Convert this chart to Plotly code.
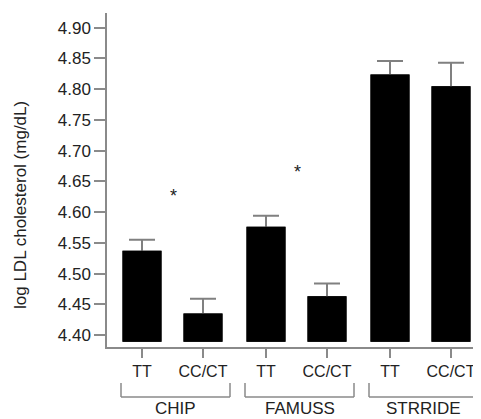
import plotly.graph_objects as go

# ---- data ----
groups = ["CHIP", "FAMUSS", "STRRIDE"]
genotypes = ["TT", "CC/CT"]
chip_mean = [4.537, 4.435]
chip_err = [0.018, 0.024]
famuss_mean = [4.576, 4.463]
famuss_err = [0.018, 0.021]
strride_mean = [4.824, 4.805]
strride_err = [0.022, 0.038]
significant = [True, True, False]
y_ticks = [4.40, 4.45, 4.50, 4.55, 4.60, 4.65, 4.70, 4.75, 4.80, 4.85, 4.90]
y_title = "log LDL cholesterol (mg/dL)"

means = [chip_mean, famuss_mean, strride_mean]
errs = [chip_err, famuss_err, strride_err]

# ---- layout helpers ----
OFF = 8                      # page body margin offset
W, H = 481 - OFF, 419 - OFF
ML, MR, MT, MB = 107 - OFF, 0, 13 - OFF, 419 - 347
first_center = 35
group_step = 124
within_step = 61
bar_width = 39
base = 4.389

FONT = "Liberation Sans, Arial, sans-serif"
TXT = "#222222"
AXC = "#8a8a8a"

xs, ys, es, labels = [], [], [], []
for g, grp in enumerate(groups):
    for i, gt in enumerate(genotypes):
        xs.append(first_center + g * group_step + i * within_step)
        ys.append(means[g][i])
        es.append(errs[g][i])
        labels.append(gt)

fig = go.Figure()
# bars carrying symmetric error bars (lower half hidden by the overlay bars)
fig.add_trace(go.Bar(
    x=xs, y=[v - base for v in ys], base=base, width=bar_width,
    marker=dict(color="black", line=dict(width=0)),
    error_y=dict(type="data", array=es, color="#808080",
                 thickness=2, width=13),
    showlegend=False, hoverinfo="skip",
))
fig.add_trace(go.Bar(
    x=xs, y=[v - base for v in ys], base=base, width=bar_width,
    marker=dict(color="black", line=dict(width=0)),
    showlegend=False, hoverinfo="skip",
))

shapes = []
annotations = []
plot_h = H - MT - MB
plot_w = W - ML - MR
def py(ref_y):
    return (H - MB - (ref_y - OFF)) / plot_h
def px(ref_x):
    return (ref_x - OFF - ML) / plot_w

for g, grp in enumerate(groups):
    x0 = first_center + g * group_step
    x1 = x0 + within_step
    bl, br = x0 - 21, x1 + 27
    yt, yb = py(383), py(397)
    for seg in [(bl, yt, bl, yb), (bl, yb, br, yb), (br, yb, br, yt)]:
        shapes.append(dict(type="line", xref="x", yref="paper",
                           x0=seg[0], y0=seg[1], x1=seg[2], y1=seg[3],
                           line=dict(color=AXC, width=1.5)))
    annotations.append(dict(x=(bl + br) / 2, y=py(408), xref="x", yref="paper",
                            xanchor="center", yanchor="middle",
                            text=grp, showarrow=False,
                            font=dict(family=FONT, size=17, color=TXT)))
    if significant[g]:
        top = max(m + e for m, e in zip(means[g], errs[g]))
        annotations.append(dict(x=(x0 + x1) / 2 + 1, y=top + 0.071, xref="x", yref="y",
                                xanchor="center", yanchor="middle",
                                text="*", showarrow=False,
                                font=dict(family=FONT, size=18, color=TXT)))

annotations.append(dict(x=px(20), y=py(205), xref="paper", yref="paper",
                        xanchor="center", yanchor="middle",
                        text=y_title, textangle=-90, showarrow=False,
                        font=dict(family=FONT, size=17, color=TXT)))

fig.update_layout(
    width=W, height=H,
    margin=dict(l=ML, r=MR, t=MT, b=MB),
    plot_bgcolor="white", paper_bgcolor="white",
    barmode="overlay",
    shapes=shapes, annotations=annotations,
    xaxis=dict(range=[0, plot_w], tickvals=xs, ticktext=labels,
               showline=True, linecolor=AXC, linewidth=1.5,
               ticks="outside", ticklen=9, tickcolor=AXC, tickwidth=1.5,
               showgrid=False, zeroline=False, automargin=False,
               tickfont=dict(family=FONT, size=16, color=TXT)),
    yaxis=dict(range=[4.3805, 4.924], tickvals=y_ticks, tickformat=".2f",
               showline=True, linecolor=AXC, linewidth=1.5,
               ticks="outside", ticklen=11, tickcolor=AXC, tickwidth=1.5,
               showgrid=False, zeroline=False, automargin=False,
               tickfont=dict(family=FONT, size=17, color=TXT)),
)

fig.write_html("out.html")
